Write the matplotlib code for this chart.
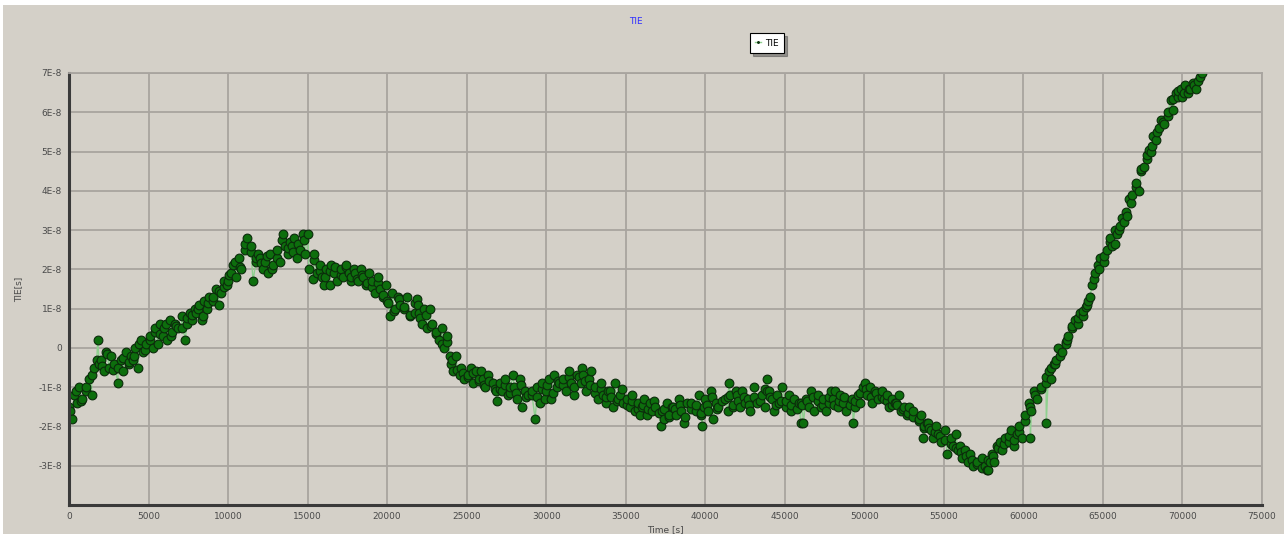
import matplotlib
matplotlib.use("Agg")
import matplotlib.pyplot as plt
from matplotlib.patches import Rectangle
from matplotlib.ticker import FuncFormatter

# TIE samples: time in seconds, TIE in units of 1E-8 s
time_s = [
    0, 170, 330, 500, 660, 830,
    1080, 1250, 1420, 1580, 1800, 1910,
    2000, 2170, 2330, 2500, 2660, 2830,
    3080, 3250, 3420, 3580, 3750, 3910,
    4000, 4170, 4330, 4500, 4660, 4830,
    5080, 5250, 5420, 5580, 5750, 5910,
    6000, 6170, 6330, 6500, 6660, 6830,
    7080, 7300, 7420, 7580, 7750, 7910,
    8000, 8170, 8330, 8500, 8660, 8830,
    9080, 9250, 9420, 9580, 9750, 9910,
    10000, 10170, 10330, 10500, 10660, 10830,
    11080, 11200, 11420, 11570, 11750, 11910,
    12000, 12170, 12330, 12500, 12660, 12830,
    13080, 13250, 13460, 13580, 13750, 13910,
    14000, 14170, 14330, 14500, 14700, 14830,
    15030, 15350, 15420, 15580, 15750, 15910,
    16000, 16170, 16400, 16500, 16660, 16830,
    17080, 17250, 17420, 17580, 17750, 17910,
    18000, 18170, 18330, 18500, 18660, 18830,
    19080, 19250, 19420, 19580, 19750, 19910,
    20000, 20190, 20330, 20500, 20660, 20830,
    21080, 21250, 21420, 21880, 21750, 21910,
    22000, 22170, 22330, 22500, 22700, 22830,
    23080, 23250, 23420, 23580, 23750, 23960,
    24000, 24170, 24330, 24590, 24660, 24830,
    25080, 25250, 25420, 25580, 25750, 25910,
    26000, 26170, 26330, 26920, 26660, 26830,
    27080, 27250, 27420, 27580, 27750, 27910,
    28000, 28170, 28330, 28500, 28660, 28830,
    29080, 29300, 29420, 29580, 29750, 29910,
    30000, 30170, 30330, 30500, 30660, 30830,
    31080, 31250, 31420, 31580, 31750, 31910,
    32260, 32170, 32330, 32500, 32660, 32830,
    33080, 33250, 33420, 33580, 33750, 33910,
    34000, 34170, 34330, 34500, 34660, 34830,
    35080, 35250, 35420, 35580, 35750, 35910,
    36000, 36170, 36330, 36500, 36660, 36830,
    37200, 37250, 37420, 37580, 37750, 37910,
    38000, 38170, 38330, 38500, 38660, 38830,
    39080, 39800, 39420, 39580, 39750, 39910,
    40000, 40170, 40330, 40500, 40660, 40830,
    41500, 41250, 41420, 41580, 41750, 41910,
    42000, 42170, 42330, 42500, 42660, 42830,
    43080, 43250, 43900, 43580, 43750, 43910,
    44000, 44170, 44330, 44500, 44660, 44830,
    45080, 45250, 45420, 45580, 46000, 45910,
    46000, 46170, 46330, 46500, 46660, 46830,
    47080, 47250, 47420, 47580, 47750, 47910,
    48000, 48170, 48330, 48500, 48660, 48830,
    49300, 49250, 49420, 49580, 49750, 49910,
    50060, 50170, 50330, 50500, 50660, 50830,
    51080, 51250, 51420, 51580, 51750, 51910,
    52000, 52170, 52330, 52500, 52660, 52830,
    53080, 53700, 53420, 53580, 53750, 53910,
    54000, 54170, 54330, 54500, 54660, 54830,
    55080, 55200, 55420, 55580, 55750, 55910,
    56000, 56170, 56330, 56500, 56660, 56830,
    57080, 57700, 57420, 57580, 57750, 57910,
    58000, 58170, 58330, 58500, 58660, 58830,
    59080, 59250, 59420, 59580, 59750, 59910,
    60100, 60440, 60330, 60500, 60660, 60830,
    61080, 61440, 61420, 61580, 61750, 61910,
    62000, 62170, 62330, 62650, 62660, 62830,
    63080, 63250, 63420, 63580, 63750, 63910,
    64000, 64170, 64330, 64500, 64660, 64830,
    65080, 65250, 65420, 65580, 65750, 65910,
    66000, 66170, 66330, 66500, 66660, 66830,
    67080, 67250, 67420, 67580, 67750, 67910,
    68000, 68170, 68330, 68500, 68660, 68830,
    69080, 69250, 69420, 69580, 69750, 69910,
    70000, 70170, 70330, 70500, 70660, 70830,
    71000, 71100, 71200,
]

tie_e8 = [
    -1.5, -1.8, -1.2, -1.4, -1.0, -1.3,
    -1.1, -0.8, -1.2, -0.5, 0.2, -0.4,
    -0.3, -0.6, -0.1, -0.5, -0.2, -0.4,
    -0.9, -0.3, -0.6, -0.1, -0.4, -0.2,
    -0.3, 0.0, -0.5, 0.2, -0.1, 0.1,
    0.3, 0.0, 0.4, 0.1, 0.6, 0.3,
    0.5, 0.2, 0.7, 0.4, 0.6, 0.5,
    0.8, 0.2, 0.6, 0.9, 0.7, 1.0,
    0.9, 1.1, 0.7, 1.2, 1.0, 1.3,
    1.2, 1.5, 1.1, 1.4, 1.7, 1.6,
    1.7, 1.9, 2.1, 1.8, 2.3, 2.0,
    2.5, 2.8, 2.6, 1.7, 2.3, 2.4,
    2.3, 2.0, 2.2, 1.9, 2.4, 2.1,
    2.5, 2.2, 2.9, 2.6, 2.4, 2.7,
    2.6, 2.8, 2.3, 2.5, 2.9, 2.4,
    2.9, 1.75, 2.4, 1.9, 2.1, 1.8,
    1.6, 2.0, 1.6, 2.1, 1.9, 1.7,
    2.0, 1.8, 2.1, 1.9, 1.7, 2.0,
    1.9, 1.7, 2.0, 1.8, 1.6, 1.9,
    1.7, 1.4, 1.8, 1.5, 1.3, 1.6,
    1.2, 0.8, 1.4, 1.0, 1.3, 1.1,
    1.0, 1.3, 0.8, 1.25, 0.9, 1.1,
    0.9, 0.6, 1.0, 0.5, 1.0, 0.6,
    0.4, 0.2, 0.5, 0.0, 0.3, -0.2,
    -0.4, -0.6, -0.2, -0.7, -0.5, -0.8,
    -0.7, -0.5, -0.9, -0.6, -0.8, -0.6,
    -0.8, -1.0, -0.7, -1.35, -0.9, -1.1,
    -0.9, -1.1, -0.8, -1.2, -1.0, -0.7,
    -1.0, -1.3, -0.8, -1.5, -1.1, -1.2,
    -1.2, -1.8, -1.0, -1.4, -0.9, -1.3,
    -1.1, -0.8, -1.3, -0.7, -1.0, -0.9,
    -0.8, -1.1, -0.6, -0.9, -1.2, -0.7,
    -0.5, -0.9, -0.7, -1.1, -0.8, -0.6,
    -1.0, -1.3, -0.9, -1.2, -1.4, -1.1,
    -1.1, -1.5, -0.9, -1.3, -1.2, -1.4,
    -1.3, -1.5, -1.2, -1.6, -1.4, -1.7,
    -1.5, -1.3, -1.7, -1.4, -1.6, -1.5,
    -2.0, -1.6, -1.8, -1.4, -1.7, -1.5,
    -1.5, -1.7, -1.3, -1.6, -1.9, -1.4,
    -1.4, -2.0, -1.6, -1.2, -1.7, -1.5,
    -1.3, -1.6, -1.1, -1.8, -1.4, -1.5,
    -0.9, -1.3, -1.6, -1.2, -1.5, -1.1,
    -1.2, -1.5, -1.1, -1.4, -1.3, -1.6,
    -1.0, -1.4, -0.8, -1.2, -1.5, -1.1,
    -1.1, -1.3, -1.6, -1.2, -1.4, -1.0,
    -1.5, -1.2, -1.6, -1.3, -1.9, -1.4,
    -1.4, -1.9, -1.3, -1.5, -1.1, -1.6,
    -1.2, -1.5, -1.3, -1.6, -1.4, -1.1,
    -1.3, -1.1, -1.5, -1.2, -1.4, -1.6,
    -1.9, -1.3, -1.5, -1.2, -1.4, -1.0,
    -0.9, -1.2, -1.0, -1.4, -1.1, -1.3,
    -1.1, -1.3, -1.2, -1.5, -1.3, -1.4,
    -1.4, -1.2, -1.6, -1.5, -1.7, -1.5,
    -1.6, -2.3, -1.8, -1.7, -2.0, -1.9,
    -1.9, -2.1, -2.3, -2.0, -2.2, -2.4,
    -2.1, -2.7, -2.3, -2.5, -2.2, -2.6,
    -2.5, -2.8, -2.6, -2.9, -2.7, -3.0,
    -2.9, -3.1, -2.8, -3.0, -3.1, -2.9,
    -2.7, -2.9, -2.5, -2.4, -2.6, -2.3,
    -2.4, -2.1, -2.5, -2.2, -2.0, -2.3,
    -1.7, -2.3, -1.4, -1.6, -1.1, -1.3,
    -1.0, -1.9, -0.9, -0.6, -0.8, -0.4,
    -0.4, 0.0, -0.2, 0.15, 0.1, 0.3,
    0.5, 0.7, 0.6, 0.9, 0.8, 1.05,
    1.1, 1.3, 1.6, 1.9, 2.1, 2.3,
    2.2, 2.5, 2.7, 2.6, 3.0, 2.9,
    3.0, 3.3, 3.2, 3.35, 3.8, 3.9,
    4.1, 4.0, 4.5, 4.6, 4.9, 5.05,
    5.0, 5.4, 5.3, 5.6, 5.8, 5.7,
    5.9, 6.3, 6.05, 6.5, 6.4, 6.6,
    6.4, 6.7, 6.5, 6.6, 6.75, 6.6,
    6.8, 6.9, 7.0,
]

# further samples that fill the dense band between the ones above
extra_time_s = [
    80, 420, 750, 1080, 1420, 1750, 2080, 2420, 2750,
    3080, 3420, 3750, 4080, 4420, 4750, 5080, 5420, 5750,
    6080, 6420, 6750, 7080, 7420, 7750, 8080, 8420, 8750,
    9080, 9420, 9750, 10080, 10420, 10750, 11080, 11420, 11750,
    12080, 12420, 12750, 13080, 13420, 13750, 14080, 14420, 14750,
    15080, 15420, 15750, 16080, 16420, 16750, 17080, 17420, 17750,
    18080, 18420, 18750, 19080, 19420, 19750, 20080, 20420, 20750,
    21080, 21420, 21750, 22080, 22420, 22750, 23080, 23420, 23750,
    24080, 24420, 24750, 25080, 25420, 25750, 26080, 26420, 26750,
    27080, 27420, 27750, 28080, 28420, 28750, 29080, 29420, 29750,
    30080, 30420, 30750, 31080, 31420, 31750, 32080, 32420, 32750,
    33080, 33420, 33750, 34080, 34420, 34750, 35080, 35420, 35750,
    36080, 36420, 36750, 37080, 37420, 37750, 38080, 38420, 38750,
    39080, 39420, 39750, 40080, 40420, 40750, 41080, 41420, 41750,
    42080, 42420, 42750, 43080, 43420, 43750, 44080, 44420, 44750,
    45080, 45420, 45750, 46080, 46420, 46750, 47080, 47420, 47750,
    48080, 48420, 48750, 49080, 49420, 49750, 50080, 50420, 50750,
    51080, 51420, 51750, 52080, 52420, 52750, 53080, 53420, 53750,
    54080, 54420, 54750, 55080, 55420, 55750, 56080, 56420, 56750,
    57080, 57420, 57750, 58080, 58420, 58750, 59080, 59420, 59750,
    60080, 60420, 60750, 61080, 61420, 61750, 62080, 62420, 62750,
    63080, 63420, 63750, 64080, 64420, 64750, 65080, 65420, 65750,
    66080, 66420, 66750, 67080, 67420, 67750, 68080, 68420, 68750,
    69080, 69420, 69750, 70080, 70420, 70750,
]

extra_tie_e8 = [
    -1.6, -1.1, -1.35, -1.0, -0.7, -0.3, -0.45, -0.15, -0.55,
    -0.5, -0.25, -0.35, -0.2, 0.1, -0.05, 0.2, 0.5, 0.35,
    0.6, 0.3, 0.55, 0.5, 0.75, 0.85, 1.0, 0.8, 1.15,
    1.3, 1.45, 1.55, 1.85, 2.2, 2.05, 2.65, 2.45, 2.2,
    2.15, 2.35, 2.0, 2.3, 2.75, 2.55, 2.45, 2.65, 2.75,
    2.0, 2.25, 1.95, 1.8, 1.95, 2.05, 1.85, 2.05, 1.8,
    1.75, 1.85, 1.65, 1.55, 1.65, 1.35, 1.15, 0.95, 1.25,
    1.05, 0.85, 1.15, 0.75, 0.85, 0.55, 0.35, 0.1, 0.15,
    -0.3, -0.55, -0.65, -0.75, -0.65, -0.85, -0.95, -0.85, -1.05,
    -1.05, -0.95, -1.15, -1.15, -0.95, -1.25, -1.1, -1.25, -1.05,
    -0.95, -1.15, -0.85, -0.95, -0.75, -1.0, -0.75, -0.85, -0.95,
    -1.15, -1.05, -1.25, -1.25, -1.35, -1.05, -1.45, -1.35, -1.55,
    -1.45, -1.55, -1.35, -1.65, -1.55, -1.75, -1.55, -1.45, -1.75,
    -1.55, -1.45, -1.65, -1.45, -1.25, -1.55, -1.35, -1.25, -1.45,
    -1.35, -1.25, -1.45, -1.25, -1.35, -1.05, -1.25, -1.45, -1.35,
    -1.35, -1.45, -1.55, -1.45, -1.35, -1.25, -1.35, -1.45, -1.25,
    -1.45, -1.35, -1.25, -1.45, -1.35, -1.15, -1.05, -1.25, -1.15,
    -1.25, -1.35, -1.45, -1.45, -1.55, -1.65, -1.75, -1.85, -2.05,
    -2.05, -2.15, -2.25, -2.35, -2.45, -2.55, -2.65, -2.75, -2.85,
    -2.95, -3.05, -2.85, -2.75, -2.55, -2.45, -2.25, -2.35, -2.15,
    -1.85, -1.5, -1.2, -1.05, -0.75, -0.5, -0.3, -0.1, 0.2,
    0.55, 0.75, 0.95, 1.2, 1.75, 2.0, 2.35, 2.8, 2.65,
    3.1, 3.45, 3.7, 4.2, 4.55, 4.8, 5.15, 5.5, 5.75,
    6.0, 6.35, 6.55, 6.5, 6.6, 6.7,
]

x_ticks = [0, 5000, 10000, 15000, 20000, 25000, 30000, 35000,
           40000, 45000, 50000, 55000, 60000, 65000, 70000, 75000]
y_ticks = [-3, -2, -1, 0, 1, 2, 3, 4, 5, 6, 7]

BG = "#d4d0c8"
GRID = "#a8a49f"
TEXT = "#4a4a4a"


def e8_label(v, pos):
    if v == 0:
        return "0"
    return f"{int(round(v))}E-8"


# one time-ordered series
samples = sorted(zip(time_s + extra_time_s, tie_e8 + extra_tie_e8))
t_all = [s[0] for s in samples]
y_all = [s[1] for s in samples]

fig = plt.figure(figsize=(12.87, 5.34), dpi=100, facecolor="white")
fig.patches.append(Rectangle((0.002, 0.0), 0.996, 0.99, transform=fig.transFigure,
                             facecolor=BG, edgecolor="none", zorder=-10))

ax = fig.add_axes([69 / 1287, 1 - 505 / 534, (1262 - 69) / 1287, (505 - 73) / 534])
ax.set_facecolor(BG)

ax.plot(t_all, y_all, color="#8fd08f", linewidth=1.0, zorder=2, label="TIE",
        marker="o", markersize=6.3, markerfacecolor="#0d6e0d",
        markeredgecolor="#0b2b0b", markeredgewidth=0.8)

ax.set_xlim(0, 75000)
ax.set_ylim(-4, 7)
ax.set_xticks(x_ticks)
ax.set_yticks(y_ticks)
ax.yaxis.set_major_formatter(FuncFormatter(e8_label))
ax.grid(True, color=GRID, linewidth=1.3, zorder=0)
ax.set_axisbelow(True)
ax.tick_params(length=0, labelsize=6.5, labelcolor=TEXT, pad=5)

for side in ("left", "bottom"):
    ax.spines[side].set_color("#3a3a3a")
    ax.spines[side].set_linewidth(2.2)
for side in ("top", "right"):
    ax.spines[side].set_color(GRID)
    ax.spines[side].set_linewidth(1.3)

ax.set_xlabel("Time [s]", fontsize=6.5, color=TEXT, labelpad=3)
ax.set_ylabel("TIE[s]", fontsize=6.5, color=TEXT, labelpad=11)

fig.text(636 / 1287, 1 - 21 / 534, "TIE", color="#3030ff", fontsize=6.5,
         ha="center", va="center")

leg = fig.legend(loc="center", bbox_to_anchor=(767 / 1287, 1 - 43 / 534),
                 fontsize=6.5, frameon=True, fancybox=False, shadow=True,
                 handlelength=0.6, handletextpad=0.5, borderpad=0.6,
                 markerscale=0.2, edgecolor="black")
leg.get_frame().set_facecolor("white")
leg.get_frame().set_linewidth(0.8)

fig.savefig("out.png", dpi=100, facecolor=fig.get_facecolor())
